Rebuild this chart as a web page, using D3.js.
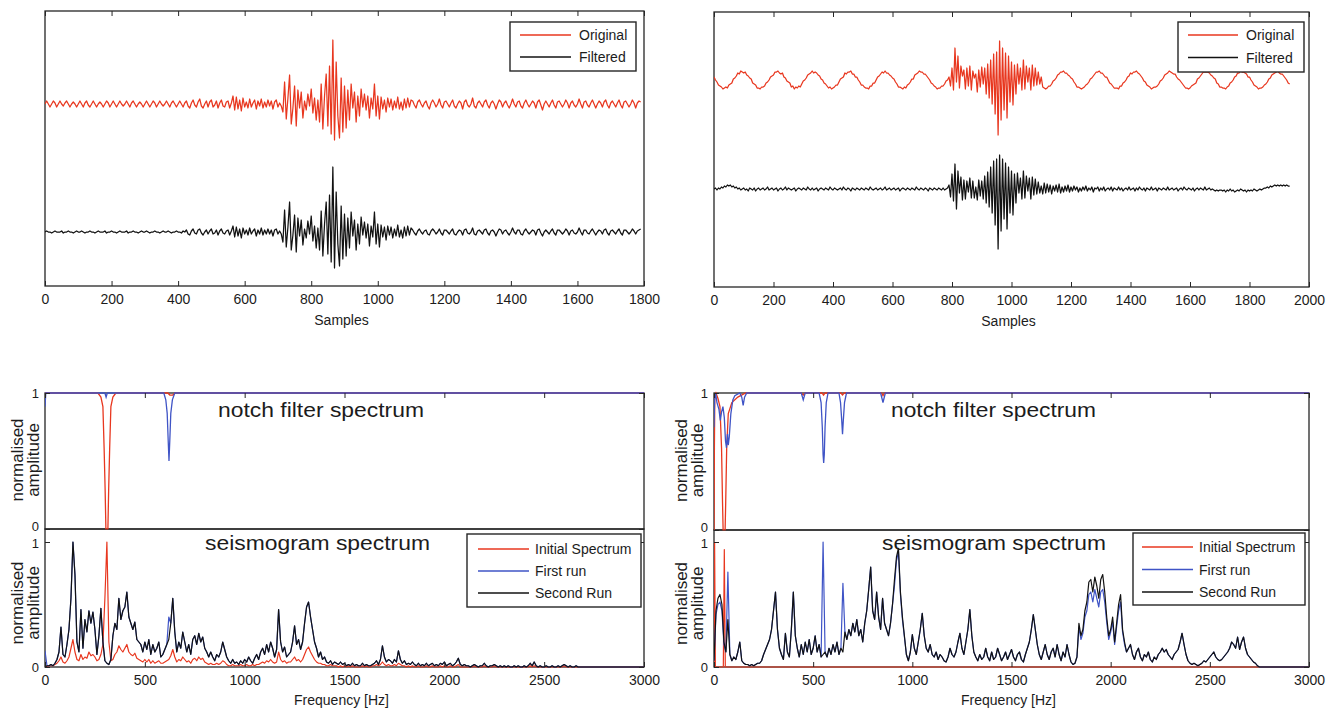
<!DOCTYPE html>
<html>
<head>
<meta charset="utf-8">
<script src="https://cdn.jsdelivr.net/npm/d3@7"></script>
<style>
  html, body { margin: 0; padding: 0; background: #fff; }
  svg { display: block; }
</style>
</head>
<body>
<svg id="fig" width="1334" height="709"></svg>
<script>
// ---------------------------------------------------------------
// Seismogram traces (amplitude in display units, one value every 5 samples)
// ---------------------------------------------------------------
const TRACE_STEP = 5;

// left record, 0..1790 samples
const leftOriginal = [
  0,3,0,-3, 0,3,1,-3, 0,3,0,-2, 1,3,0,-3, 0,2,0,-3, 0,3,0,-3, 1,3,-1,-3, 0,3,0,-3, 0,2,0,-3, 0,3,1,-3,
  0,3,0,-3, 0,3,0,-2, 0,3,0,-3, 1,3,0,-3, 0,2,0,-3, 0,3,0,-3, 0,3,1,-3, 0,3,0,-2, 0,3,0,-3, 1,3,0,-3,
  0,3,0,-3, 1,
  3,-2,-4,1,4,-1,-3,2,5,-2,-4,0,3,-3,2,4,-3,-1,3,-4,1,4,-2,-3,2,3,-4,1,
  8,-6,7,-5,4,-7,6,-3,2,-4, 5,-3,1,4,-5,3,-2,5,-4,2, -3,4,-2,3,-5,2,4,-3,1,-2,
  -8,22,-15,6,29,-20,-4,18,-22,14,
  -4,12,-14,3,-6,10,-2,15,-9,6,-16,4,-18,20,
  -25,8,30,-22,38,-30,64,-36,42,-12,-34,26,-28,18,
  -24,14,-16,20,-4,12,-18,8,-12,15, -3,10,-6,8,-14,6,-5,20,-12,8,
  -15,7,-5,4,-8,6,-3,5,-6,3, -4,7,-5,2,-6,5,-4,6,-3,4,
  3,-1,-4,2, 4,0,-3,1, 3,-2,-5,1, 4,1,-3,0, 5,-1,-4,2, 3,0,-3,1, 4,-2,-4,0, 3,1,-5,2, 4,-1,-3,0, 6,-2,-4,1,
  3,0,-3,2, 4,-1,-4,1, 3,0,-5,0, 4,2,-3,1, 3,-1,-4,0, 5,0,-3,2, 3,-2,-4,1, 4,0,-3,0, 3,1,-4,2, 4,-1,-6,0,
  3,0,-3,1, 4,-1,-4,2, 3,0,-3,0, 4,1,-4,1, 3,-1,-3,0, 5,0,-4,2, 3,-1,-3,1, 4,0,-4,0, 3,1,-3,2, 4,-1,-4,1,
  3,0,-3,1, 4,-1,-4,2, 3,0,-3,0, 4,1,-4,1, 3,2
];
const leftFiltered = [
  0,1,0,0,-1,0,1,0,0,0,1,-1,0,0,1,0,0,-1,0,1,
  0,0,1,0,-1,0,0,1,0,0,-1,0,1,0,0,0,1,-1,0,0,
  1,0,0,-1,0,1,0,0,0,1,-1,0,0,1,0,0,-1,0,1,0,
  0,1,0,-1,0,0,1,0,0,-1,0,1,0,0,1,0,-1,0,0,1,
  0,0,-1,1,0,
  2,-2,-3,1,3,-1,-2,2,3,-1,-3,0,2,-2,1,3,-2,-1,2,-3,1,3,-1,-2,1,2,-3,1,
  6,-5,5,-4,3,-6,4,-2,2,-3, 4,-2,1,3,-4,2,-2,4,-3,2, -2,3,-2,2,-4,2,3,-2,1,-2,
  -10,22,-15,5,30,-18,-3,17,-20,14,
  -4,12,-13,3,-6,11,-2,16,-9,6,-16,4,-18,21,
  -24,8,30,-22,37,-30,65,-36,40,-12,-34,26,-27,18,
  -24,14,-16,20,-4,12,-18,8,-12,15, -3,10,-6,8,-14,6,-5,20,-12,8,
  -15,7,-5,5,-8,6,-3,5,-6,3, -4,7,-5,2,-6,5,-4,6,-3,4,
  2,-1,-3,1, 3,0,-2,1, 2,-2,-3,1, 3,1,-2,0, 3,-1,-3,2, 2,0,-2,1, 3,-2,-3,0, 2,1,-3,2, 3,-1,-2,0, 4,-2,-3,1,
  2,0,-2,2, 3,-1,-3,1, 2,0,-4,0, 3,2,-2,1, 2,-1,-3,0, 4,0,-2,2, 2,-2,-3,1, 3,0,-2,0, 2,1,-3,2, 3,-1,-4,0,
  2,0,-2,1, 3,-1,-3,2, 2,0,-2,0, 3,1,-3,1, 2,-1,-2,0, 4,0,-3,2, 2,-1,-2,1, 3,0,-3,0, 2,1,-2,2, 3,-1,-3,1,
  2,0,-2,1, 3,-1,-3,2, 2,0,-2,0, 3,1,-2,1, 2,3
];

// right record, 0..1935 samples
const rightOriginal = [
  3,0,-2,-5,-6,-7,-9,-8,-7,-8,-5,-4,-3,1,2,4,7,6,9,8,7,8,5,4,
  2,1,-3,-4,-5,-8,-8,-9,-7,-7,-6,-3,-2,0,3,4,5,8,8,9,7,6,7,3,
  2,-1,-2,-3,-7,-6,-9,-7,-8,-6,-7,-4,-1,0,2,5,6,7,9,7,8,7,5,4,
  1,0,-3,-4,-6,-8,-7,-9,-8,-7,-5,-5,-2,1,2,3,7,6,8,8,9,6,6,3,
  3,0,-2,-5,-5,-7,-8,-8,-9,-6,-6,-3,-3,0,3,4,6,8,7,9,7,7,5,4,
  2,1,-2,-4,-7,-7,-8,-9,-7,-8,-5,-4,-2,1,1,5,6,7,9,8,8,6,6,4,
  2,0,-3,-4,-6,-7,-9,-8,-8,-6,-6,-4,-1,0,
  3,-6,12,-10,32,-2,24,-8,14,4, 10,-9,12,-6,14,-10,9,2,6,-12,
  10,-7,13,-4,12,-14,16,-18,20,-24, 26,-34,28,-55,39,-40,32,-30,27,-38,
  24,-22,18,-25,15,-14,16,-4,12,-10, 20,-9,14,-2,12,-10,15,-6,12,-5, 8,-4,3,
  -7,-8,-9,-8,-6,-6,-4,-1,0,2,5,6,8,8,9,7,7,5,4,
  2,1,-2,-4,-7,-7,-8,-9,-8,-7,-5,-4,-2,1,2,4,6,8,8,9,7,7,5,3,
  3,0,-3,-4,-6,-8,-8,-8,-9,-6,-6,-3,-2,0,3,4,7,6,8,8,9,7,6,4,
  2,-1,-2,-5,-6,-7,-9,-8,-7,-7,-6,-4,-1,0,2,5,6,7,9,8,7,6,6,3,
  1,0,-2,-4,-6,-8,-8,-9,-8,-6,-5,-4,-3,1,2,4,6,8,8,8,8,7,5,4,
  2,1,-3,-4,-7,-7,-8,-8,-9,-7,-6,-3,-2,0,3,4,7,7,9,8,8,7,6,3,
  3,0,-2,-5,-6,-7,-9,-8,-8,-7,-5,-4,-2,1,2,5,6,7,8,9,7,6,6,4,
  2,0,-3,-4
];
const rightFiltered = [
  0,1,-1,1,0,2,1,3,2,4,3,4,2,3,1,2,0,1,-1,0,
  1,-1,0,-2,1,0,-1,1,-2,0,1,-1,0,1,-1,0,2,-1,0,1,
  -1,0,1,-2,0,1,-1,0,2,-1,1,0,-1,0,1,-2,0,1,0,-1,
  1,0,-1,2,0,-1,1,-1,0,1,-2,0,1,0,-1,1,0,-1,2,0,
  -1,1,0,-1,0,1,-1,2,0,-1,1,0,-2,1,0,-1,1,0,-1,1,
  0,-1,1,0,-1,2,0,-1,0,1,-1,0,1,-1,0,2,-1,0,1,-1,
  0,1,-1,0,1,-2,0,1,0,-1,1,0,-1,1,0,-1,2,0,-1,1,
  0,-1,1,0,-2,1,0,-1,1,0,-1,1,0,-1,1,-1,0,1,
  4,-8,15,-12,25,-20,18,-4,12,-11, 9,-10,8,-3,11,-9,8,-9,2,-11,
  9,-7,8,-10,13,-14,17,-18,22,-24, 28,-36,30,-60,34,-42,30,-30,26,-40,
  22,-24,18,-26,15,-14,16,-4,11,-10, 18,-9,13,-2,11,-10,12,-6,10,-5, 7,-4,3,
  -5,6,-4,5,-3,4,-5,3,-2,4,-3,5,-4,2,-3,3,-2,4,-3,2,
  -2,3,-1,2,-3,1,-2,2,-1,3,-2,1,-1,2,-3,1,0,2,-2,1,
  -1,2,-2,0,1,-1,2,-2,1,0,-1,2,-1,1,-2,0,1,-1,2,-1,
  0,1,-2,1,-1,2,0,-1,1,-2,1,0,-1,2,-1,0,1,-2,1,0,
  -1,1,0,-1,2,-1,0,1,-1,0,1,-2,0,1,-1,2,0,-1,1,0,
  -1,1,-2,0,1,-1,1,0,-1,2,-1,0,1,-1,0,-1,-2,-1,-2,-1,
  -1,-2,-1,-3,-1,-2,0,-2,-1,-3,-2,-1,-2,0,-1,-2,-1,-3,-1,-2,
  -1,-2,0,-1,-2,-1,0,-1,0,1,
  1,2,1,3,2,3,4,3,4,3,4,3,4,3,4,3,3
];

// ---------------------------------------------------------------
// Spectra: normalised amplitude in percent, one value every 10 Hz (0..3000 Hz)
// ---------------------------------------------------------------
const SPEC_STEP = 10;

const leftInitial = [
  0,0,1,1,1,2,3,5,8,4,  3,5,8,15,22,12,6,5,10,6,  8,7,12,9,10,8,5,6,10,18,
  55,100,20,5,6,10,12,17,14,12,  15,18,12,10,9,11,7,6,5,4,  6,4,6,3,5,3,4,5,3,3,
  4,5,6,9,14,8,4,6,5,8,  6,4,5,3,6,7,5,8,6,7,  4,3,2,3,2,2,3,2,3,5,
  4,2,1,1,2,1,1,1,2,1,  1,2,1,1,2,1,2,2,3,4,  3,5,4,6,4,3,4,12,6,4,
  5,3,4,4,6,8,5,6,4,6,  10,14,16,12,9,6,4,3,3,2,  2,1,1,2,1,1,1,0,1,0,
  1,0,1,0,1,0,0,0,0,1,  0,1,0,0,1,1,2,1,2,4,  2,1,2,1,1,2,1,3,2,1,
  1,0,1,0,1,0,0,1,0,0,  0,1,0,0,1,0,0,0,1,0,  1,0,0,1,0,0,1,2,0,0,
  0,0,0,0,0,1,0,0,0,0,  1,0,0,0,0,1,0,0,0,0,  0,0,0,0,0,0,0,0,0,0,
  0,0,0,1,0,1,0,0,0,0,  0,0,0,0,0,0,0,0,0,0,  1,0,0,0,0,0,0,0,0,0,
  0,0,0,0,0,0,0,0,0,0,  0,0,0,0,0,0,0,0,0,0,  0,0,0,0,0,0,0,0,0,0,
  0
];
const leftFirst = [
  13,1,1,2,1,3,6,12,32,10,  8,18,30,55,100,74,20,12,46,15,  38,28,45,35,44,30,10,25,47,20,
  5,3,2,6,25,35,30,55,38,45,  48,60,40,35,30,36,22,20,18,12,  20,14,22,10,18,12,15,20,8,10,
  14,18,40,35,55,28,12,20,15,28,  20,12,18,10,22,25,18,27,20,24,  15,12,8,12,8,5,10,8,12,20,
  14,8,5,3,6,3,4,2,5,3,  6,4,8,5,3,7,10,6,12,15,  10,18,12,20,15,8,14,46,20,12,
  16,8,10,12,20,33,18,22,14,20,  35,48,52,40,30,20,15,8,12,6,  8,4,3,5,2,4,3,2,4,2,
  3,1,2,1,3,1,2,1,1,3,  1,2,1,1,2,3,5,2,6,17,  8,4,6,5,3,6,4,13,6,3,
  5,2,3,2,4,2,1,3,1,2,  1,3,1,2,3,1,2,1,3,2,  4,1,2,3,1,2,4,7,2,1,
  2,1,1,0,1,2,1,0,1,1,  3,1,0,1,1,2,1,0,1,0,  1,0,1,0,0,1,0,1,0,0,
  1,0,1,3,1,4,1,0,1,0,  0,1,0,0,1,0,0,1,0,1,  2,1,0,1,0,0,1,0,0,0,
  0,0,0,0,0,0,0,0,0,0,  0,0,0,0,0,0,0,0,0,0,  0,0,0,0,0,0,0,0,0,0,
  0
];
const leftSecond = [
  0,1,1,2,1,3,6,12,32,10,  8,18,30,55,100,74,20,12,46,15,  38,28,45,35,44,30,10,25,47,20,
  5,3,2,6,25,35,30,55,38,45,  48,60,40,35,30,36,22,20,18,12,  20,14,22,10,18,12,15,20,8,10,
  14,18,22,35,55,28,12,20,15,28,  20,12,18,10,22,25,18,27,20,24,  15,12,8,12,8,5,10,8,12,20,
  14,8,5,3,6,3,4,2,5,3,  6,4,8,5,3,7,10,6,12,15,  10,18,12,20,15,8,14,46,20,12,
  16,8,10,12,20,33,18,22,14,20,  35,48,52,40,30,20,15,8,12,6,  8,4,3,5,2,4,3,2,4,2,
  3,1,2,1,3,1,2,1,1,3,  1,2,1,1,2,3,5,2,6,17,  8,4,6,5,3,6,4,13,6,3,
  5,2,3,2,4,2,1,3,1,2,  1,3,1,2,3,1,2,1,3,2,  4,1,2,3,1,2,4,7,2,1,
  2,1,1,0,1,2,1,0,1,1,  3,1,0,1,1,2,1,0,1,0,  1,0,1,0,0,1,0,1,0,0,
  1,0,1,3,1,4,1,0,1,0,  0,1,0,0,1,0,0,1,0,1,  2,1,0,1,0,0,1,0,0,0,
  0,0,0,0,0,0,0,0,0,0,  0,0,0,0,0,0,0,0,0,0,  0,0,0,0,0,0,0,0,0,0,
  0
];

// right record: the initial spectrum is flat except for two narrow lines ([Hz, percent])
const rightInitial = [[0,0],[3,100],[7,0],[47,0],[52,94],[57,0],[3000,0]];
const rightFirst = [
  5,42,50,52,45,18,12,76,10,5,  8,6,12,20,5,3,2,2,1,2,  1,2,3,3,5,10,14,18,22,30,
  45,60,30,15,10,6,27,12,8,30,  60,25,15,8,18,10,20,12,22,10,  15,25,12,18,8,100,12,8,15,10,
  18,12,20,10,15,67,28,22,30,25,  35,28,38,25,30,20,35,45,62,80,  45,38,60,40,30,55,35,30,25,35,
  50,65,85,92,58,38,24,10,5,12,  26,15,10,20,30,43,25,15,12,18,  10,8,12,6,10,8,5,4,8,15,
  10,8,12,20,27,15,10,20,30,46,  25,12,8,5,10,6,8,15,8,5,  12,6,8,15,10,5,8,12,6,10,
  14,8,5,10,12,6,4,10,15,20,  30,42,30,18,10,6,12,18,10,6,  12,15,8,18,10,5,12,8,18,10,
  4,2,3,8,32,22,27,40,45,58,  60,52,62,55,48,60,62,52,36,22,  28,36,18,32,45,52,28,18,12,15,
  18,10,6,12,15,8,5,10,8,12,  6,4,8,6,10,12,15,12,14,10,  8,6,10,12,14,20,27,18,10,5,
  3,2,3,2,1,2,3,5,4,6,  8,10,12,8,6,5,6,8,10,12,  15,20,18,15,24,14,20,24,15,10,
  8,6,4,3,1,0,0,0,0,0,  0,0,0,0,0,0,0,0,0,0,  0,0,0,0,0,0,0,0,0,0,
  0
];
const rightSecond = [
  5,45,55,58,50,20,12,38,10,5,  8,6,12,20,5,3,2,2,1,2,  1,2,3,3,5,10,14,18,22,30,
  45,60,30,15,10,6,27,12,8,30,  60,25,15,8,18,10,20,12,22,10,  15,25,12,18,8,10,12,8,15,10,
  18,12,20,10,15,12,28,22,30,25,  35,28,38,25,30,20,35,45,62,80,  45,38,60,40,30,55,35,30,25,35,
  50,70,88,95,60,40,25,10,5,12,  26,15,10,20,30,43,25,15,12,18,  10,8,12,6,10,8,5,4,8,15,
  10,8,12,20,27,15,10,20,30,46,  25,12,8,5,10,6,8,15,8,5,  12,6,8,15,10,5,8,12,6,10,
  14,8,5,10,12,6,4,10,15,20,  30,42,30,18,10,6,12,18,10,6,  12,15,8,18,10,5,12,8,18,10,
  4,2,3,8,35,25,30,45,52,68,  70,60,72,65,55,70,74,60,40,25,  30,40,20,35,50,58,30,20,12,15,
  18,10,6,12,15,8,5,10,8,12,  6,4,8,6,10,12,15,12,14,10,  8,6,10,12,14,20,27,18,10,5,
  3,2,3,2,1,2,3,5,4,6,  8,10,12,8,6,5,6,8,10,12,  15,20,18,15,24,14,20,24,15,10,
  8,6,4,3,1,0,0,0,0,0,  0,0,0,0,0,0,0,0,0,0,  0,0,0,0,0,0,0,0,0,0,
  0
];

// ---------------------------------------------------------------
// Notch filter responses ([Hz, normalised amplitude])
// ---------------------------------------------------------------
const leftNotchInitial = [
  [0,1],[265,1],[280,0.97],[290,0.9],[296,0.6],[301,0.3],[305,0],[315,0],[319,0.3],[324,0.6],
  [330,0.9],[340,0.97],[355,1],[615,1],[625,0.985],[640,0.985],[650,1],[3000,1]
];
const leftNotchFirst = [
  [0,0.9],[4,1],[300,1],[306,0.97],[312,1],[595,1],[605,0.95],[612,0.85],[617,0.65],[621,0.5],
  [625,0.65],[630,0.85],[638,0.95],[650,1],[3000,1]
];
const rightNotchInitial = [
  [0,0],[2,0.6],[4,0.97],[10,1],[20,0.96],[30,0.9],[38,0.6],[43,0.2],[46,0],[56,0],[59,0.2],
  [64,0.6],[72,0.85],[90,0.93],[120,0.97],[160,1],[440,1],[450,0.985],[460,1],[545,1],[552,0.985],
  [560,1],[640,1],[648,0.985],[656,1],[845,1],[852,0.98],[860,1],[3000,1]
];
const rightNotchFirst = [
  [0,0.75],[3,0.95],[8,1],[15,0.93],[25,0.88],[32,0.8],[38,0.86],[45,0.9],[52,0.82],[58,0.65],
  [63,0.6],[68,0.7],[72,0.62],[77,0.68],[85,0.85],[95,0.95],[105,0.98],[130,1],[140,0.97],[147,0.91],
  [154,0.97],[165,1],[440,1],[446,0.97],[450,0.95],[454,0.97],[460,1],[530,1],[540,0.93],[546,0.75],
  [550,0.55],[553,0.49],[556,0.55],[560,0.75],[566,0.93],[575,1],[630,1],[638,0.93],[644,0.8],
  [648,0.7],[652,0.8],[658,0.93],[668,1],[840,1],[847,0.96],[852,0.93],[857,0.96],[864,1],[3000,1]
];

// ---------------------------------------------------------------
// Ticks and labels
// ---------------------------------------------------------------
const sampleTicksLeft = [0,200,400,600,800,1000,1200,1400,1600,1800];
const sampleLabelsLeft = ["0","200","400","600","800","1000","1200","1400","1600","1800"];
const sampleTicksRight = [0,200,400,600,800,1000,1200,1400,1600,1800,2000];
const sampleLabelsRight = ["0","200","400","600","800","1000","1200","1400","1600","1800","2000"];
const freqTicks = [0,500,1000,1500,2000,2500,3000];
const freqLabels = ["0","500","1000","1500","2000","2500","3000"];
const unitTicks = [0,1];
const unitLabels = ["0","1"];

const traceLegend = ["Original","Filtered"];
const spectrumLegend = ["Initial Spectrum","First run","Second Run"];

// ---------------------------------------------------------------
// Drawing
// ---------------------------------------------------------------
const FONT = '"Liberation Sans", Arial, Helvetica, sans-serif';
const INK = "#262626";
const TEXT = "#1c1c1c";
const RED = "#e8371f";
const BLUE = "#3f54c6";
const BLACK = "#121212";

const svg = d3.select("#fig").attr("font-family", FONT);
const defs = svg.append("defs");
let clipCount = 0;

function clipRect(x0, y0, x1, y1) {
  const id = "plotclip" + (clipCount++);
  defs.append("clipPath").attr("id", id).append("rect")
    .attr("x", x0).attr("y", y0).attr("width", x1 - x0).attr("height", y1 - y0);
  return `url(#${id})`;
}

function styleAxis(a, size = 14) {
  a.attr("font-family", null).attr("font-size", null);
  a.select(".domain").remove();
  a.selectAll(".tick line").attr("stroke", INK).attr("stroke-width", 1);
  a.selectAll(".tick text").attr("fill", TEXT).attr("font-size", size);
  return a;
}

function drawBox(g, x0, y0, x1, y1) {
  g.append("rect").attr("x", x0).attr("y", y0).attr("width", x1 - x0).attr("height", y1 - y0)
    .attr("fill", "none").attr("stroke", INK).attr("stroke-width", 1.3);
}

function drawLegend(g, box, labels, colors) {
  g.append("rect").attr("x", box.x).attr("y", box.y).attr("width", box.w).attr("height", box.h)
    .attr("fill", "#fff").attr("stroke", INK).attr("stroke-width", 1.4);
  labels.forEach((label, i) => {
    const cy = box.y + box.first + i * box.gap;
    g.append("line").attr("x1", box.x + box.l0).attr("x2", box.x + box.l1)
      .attr("y1", cy).attr("y2", cy).attr("stroke", colors[i]).attr("stroke-width", 1.7);
    g.append("text").attr("x", box.x + box.tx).attr("y", cy).attr("dy", "0.36em")
      .attr("font-size", 14).attr("fill", TEXT).text(label);
  });
}

function tracePanel(p) {
  const g = svg.append("g");
  const x = d3.scaleLinear().domain([0, p.xMax]).range([p.left, p.right]);
  const y = d3.scaleLinear().domain(p.yDomain).range([p.bottom, p.top]);
  const lineAt = offset => d3.line().x((d, i) => x(i * TRACE_STEP)).y(d => y(d + offset));

  drawBox(g, p.left, p.top, p.right, p.bottom);
  const plot = g.append("g").attr("clip-path", clipRect(p.left, p.top, p.right, p.bottom));
  plot.append("path").attr("d", lineAt(p.offset)(p.original))
    .attr("fill", "none").attr("stroke", RED).attr("stroke-width", 1.25).attr("stroke-linejoin", "round");
  plot.append("path").attr("d", lineAt(0)(p.filtered))
    .attr("fill", "none").attr("stroke", BLACK).attr("stroke-width", 1.25).attr("stroke-linejoin", "round");

  styleAxis(g.append("g").attr("transform", `translate(0,${p.bottom})`)
    .call(d3.axisBottom(x).tickValues(p.ticks).tickFormat((d, i) => p.labels[i]).tickSize(-5).tickPadding(8)));
  styleAxis(g.append("g").attr("transform", `translate(0,${p.top})`)
    .call(d3.axisTop(x).tickValues(p.ticks).tickFormat("").tickSize(-5)));

  g.append("text").attr("x", (p.left + p.right) / 2 - 3).attr("y", p.bottom + 39)
    .attr("text-anchor", "middle").attr("font-size", 14).attr("fill", TEXT).text("Samples");

  drawLegend(g, p.legend, traceLegend, [RED, BLACK]);
}

function asPoints(series) {
  return Array.isArray(series[0])
    ? series.map(([f, v]) => [f, v / 100])
    : series.map((v, i) => [i * SPEC_STEP, v / 100]);
}

function yLabel(g, xBase, cy) {
  g.append("text").attr("transform", `translate(${xBase},${cy}) rotate(-90)`)
    .attr("text-anchor", "middle").attr("font-size", 17).attr("fill", TEXT).text("normalised");
  g.append("text").attr("transform", `translate(${xBase + 15.5},${cy}) rotate(-90)`)
    .attr("text-anchor", "middle").attr("font-size", 17).attr("fill", TEXT).text("amplitude");
}

function spectrumPanel(p) {
  const g = svg.append("g");
  const x = d3.scaleLinear().domain([0, 3000]).range([p.left, p.right]);
  const yN = d3.scaleLinear().domain([0, 1]).range([p.split, p.top]);
  const yS = d3.scaleLinear().domain([0, 1]).range([p.bottom, p.one]);
  const notchLine = d3.line().x(d => x(d[0])).y(d => yN(d[1]));
  const specLine = d3.line().x(d => x(d[0])).y(d => yS(d[1]));

  drawBox(g, p.left, p.top, p.right, p.split);
  drawBox(g, p.left, p.split, p.right, p.bottom);

  // notch filter responses
  const upper = g.append("g").attr("clip-path", clipRect(p.left, p.top - 1.5, p.right, p.split + 0.5));
  upper.append("path").attr("d", notchLine(p.notchInitial)).attr("fill", "none")
    .attr("stroke", RED).attr("stroke-width", 1.3);
  upper.append("path").attr("d", notchLine(p.notchFirst)).attr("fill", "none")
    .attr("stroke", BLUE).attr("stroke-width", 1.3);

  // seismogram spectra
  const lower = g.append("g").attr("clip-path", clipRect(p.left, p.split, p.right, p.bottom + 1));
  [[p.initial, RED], [p.first, BLUE], [p.second, BLACK]].forEach(([s, c]) => {
    lower.append("path").attr("d", specLine(asPoints(s))).attr("fill", "none")
      .attr("stroke", c).attr("stroke-width", 1.2).attr("stroke-linejoin", "round");
  });

  // axes
  styleAxis(g.append("g").attr("transform", `translate(0,${p.bottom})`)
    .call(d3.axisBottom(x).tickValues(freqTicks).tickFormat((d, i) => freqLabels[i]).tickSize(-5).tickPadding(8)));
  styleAxis(g.append("g").attr("transform", `translate(0,${p.top})`)
    .call(d3.axisTop(x).tickValues(freqTicks).tickFormat("").tickSize(-5)));
  // the "0" of the notch axis and the "1" of the spectrum axis sit close together at the seam
  styleAxis(g.append("g").attr("transform", `translate(${p.left},0)`)
    .call(d3.axisLeft(yN).tickValues(unitTicks).tickFormat((d, i) => unitLabels[i]).tickSize(-5).tickPadding(6)), 13)
    .selectAll(".tick text").attr("y", d => (d === 0 ? -2.5 : 0));
  styleAxis(g.append("g").attr("transform", `translate(${p.left},0)`)
    .call(d3.axisLeft(yS).tickValues(unitTicks).tickFormat((d, i) => unitLabels[i]).tickSize(-5).tickPadding(6)), 13)
    .selectAll(".tick text").attr("y", d => (d === 1 ? 1.5 : 0));
  styleAxis(g.append("g").attr("transform", `translate(${p.right},0)`)
    .call(d3.axisRight(yN).tickValues(unitTicks).tickFormat("").tickSize(-5)));
  styleAxis(g.append("g").attr("transform", `translate(${p.right},0)`)
    .call(d3.axisRight(yS).tickValues(unitTicks).tickFormat("").tickSize(-5)));

  // titles
  g.append("text").attr("x", p.notchTitle[0]).attr("y", p.notchTitle[1])
    .attr("font-size", 20).attr("fill", TEXT)
    .attr("textLength", p.notchTitle[2]).attr("lengthAdjust", "spacingAndGlyphs")
    .text("notch filter spectrum");
  g.append("text").attr("x", p.specTitle[0]).attr("y", p.specTitle[1])
    .attr("font-size", 20).attr("fill", TEXT)
    .attr("textLength", p.specTitle[2]).attr("lengthAdjust", "spacingAndGlyphs")
    .text("seismogram spectrum");

  yLabel(g, p.labelX, (p.top + p.split) / 2 - 1);
  yLabel(g, p.labelX, (p.split + p.bottom) / 2 + 5);

  g.append("text").attr("x", (p.left + p.right) / 2 - 3).attr("y", p.bottom + 38)
    .attr("text-anchor", "middle").attr("font-size", 14).attr("fill", TEXT).text("Frequency [Hz]");

  drawLegend(g, p.legend, spectrumLegend, [RED, BLUE, BLACK]);
}

tracePanel({
  left: 45, right: 644, top: 11, bottom: 286,
  xMax: 1800, ticks: sampleTicksLeft, labels: sampleLabelsLeft,
  yDomain: [-54, 221], offset: 128,
  original: leftOriginal, filtered: leftFiltered,
  legend: { x: 510, y: 22, w: 126, h: 49, first: 13, gap: 22, l0: 10, l1: 61, tx: 69 }
});

tracePanel({
  left: 714, right: 1309, top: 12, bottom: 287,
  xMax: 2000, ticks: sampleTicksRight, labels: sampleLabelsRight,
  yDomain: [-98, 177], offset: 109,
  original: rightOriginal, filtered: rightFiltered,
  legend: { x: 1178, y: 22, w: 126, h: 50, first: 13, gap: 22.5, l0: 10, l1: 60, tx: 68 }
});

spectrumPanel({
  left: 45, right: 644, top: 393, split: 529, one: 542, bottom: 667,
  initial: leftInitial, first: leftFirst, second: leftSecond,
  notchInitial: leftNotchInitial, notchFirst: leftNotchFirst,
  notchTitle: [218, 417, 206], specTitle: [205, 550, 225], labelX: 23,
  legend: { x: 467, y: 534, w: 174, h: 73, first: 15, gap: 22, l0: 11, l1: 62, tx: 68 }
});

spectrumPanel({
  left: 714, right: 1309, top: 393, split: 530, one: 542, bottom: 667,
  initial: rightInitial, first: rightFirst, second: rightSecond,
  notchInitial: rightNotchInitial, notchFirst: rightNotchFirst,
  notchTitle: [891, 417, 205], specTitle: [882, 550, 224], labelX: 687,
  legend: { x: 1133, y: 533, w: 172, h: 72, first: 14, gap: 22.5, l0: 9, l1: 60, tx: 66 }
});
</script>
</body>
</html>
